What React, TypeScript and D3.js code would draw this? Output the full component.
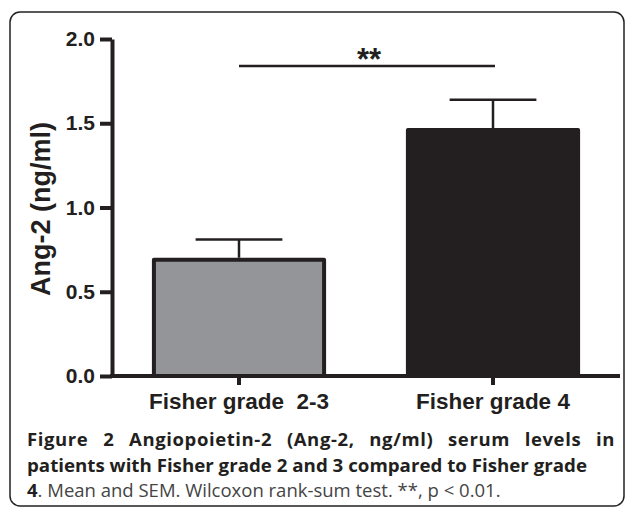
import React, { useEffect, useRef } from "react";
import * as d3 from "d3";

const categories = ["Fisher grade  2-3", "Fisher grade 4"];
const means = [0.69, 1.46];
const sems = [0.12, 0.18];
const barColors = ["#939598", "#231f20"];
const yTicks = [0, 0.5, 1.0, 1.5, 2.0];
const captionLines = [
  "Angiopoietin-2 (Ang-2, ng/ml) serum levels in",
  "patients with Fisher grade 2 and 3 compared to Fisher grade",
  ". Mean and SEM. Wilcoxon rank-sum test. **, p < 0.01.",
];

const width = 627,
  height = 510;

const App = () => {
  const ref = useRef<SVGSVGElement>(null);

  useEffect(() => {
    const svg = d3.select(ref.current);
    svg.selectAll("*").remove();

    const left = 112,
      right = 620,
      top = 39,
      bottom = 376;
    const font = "'Liberation Sans', Arial, sans-serif";

    // frame
    svg
      .append("rect")
      .attr("x", 10)
      .attr("y", 12)
      .attr("width", 614)
      .attr("height", 494)
      .attr("rx", 10)
      .attr("fill", "white")
      .attr("stroke", "#222")
      .attr("stroke-width", 1.5);

    const y = d3.scaleLinear().domain([0, 2]).range([bottom, top]);
    const x = d3.scaleBand().domain(categories).range([left, right]).padding(0);
    const barW = x.bandwidth() * 0.67;
    const capW = barW * 0.51;

    // bars
    const g = svg.append("g");
    g.selectAll("rect.bar")
      .data(means)
      .enter()
      .append("rect")
      .attr("class", "bar")
      .attr("x", (d, i) => x(categories[i])! + x.bandwidth() / 2 - barW / 2)
      .attr("y", (d) => y(d))
      .attr("width", barW)
      .attr("height", (d) => y(0) - y(d))
      .attr("fill", (d, i) => barColors[i])
      .attr("stroke", "#231f20")
      .attr("stroke-width", 4)
      .attr("stroke-linejoin", "round");

    // error bars
    means.forEach((m, i) => {
      const cx = x(categories[i])! + x.bandwidth() / 2;
      g.append("line")
        .attr("x1", cx)
        .attr("x2", cx)
        .attr("y1", y(m) - 2)
        .attr("y2", y(m + sems[i]))
        .attr("stroke", "#231f20")
        .attr("stroke-width", 2.5);
      g.append("line")
        .attr("x1", cx - capW / 2)
        .attr("x2", cx + capW / 2)
        .attr("y1", y(m + sems[i]))
        .attr("y2", y(m + sems[i]))
        .attr("stroke", "#231f20")
        .attr("stroke-width", 2.5);
    });

    // y axis
    const yAxis = svg
      .append("g")
      .attr("transform", `translate(${left}, 0)`)
      .call(
        d3
          .axisLeft(y)
          .tickValues(yTicks)
          .tickSize(12)
          .tickSizeOuter(0)
          .tickPadding(5)
          .tickFormat(d3.format(".1f"))
      );
    yAxis.select(".domain").attr("stroke", "#231f20").attr("stroke-width", 4);
    yAxis.selectAll(".tick line").attr("stroke", "#231f20").attr("stroke-width", 4);
    yAxis
      .selectAll(".tick text")
      .attr("fill", "#231f20")
      .style("font-family", font)
      .style("font-weight", "bold")
      .style("font-size", "21px");

    // x axis
    const xAxis = svg
      .append("g")
      .attr("transform", `translate(0, ${bottom})`)
      .call(d3.axisBottom(x).tickSize(9).tickSizeOuter(0).tickPadding(8));
    xAxis.select(".domain").attr("stroke", "#231f20").attr("stroke-width", 4).attr("d", `M${left - 2},0H${right}`);
    xAxis.selectAll(".tick line").attr("stroke", "#231f20").attr("stroke-width", 4);
    xAxis
      .selectAll(".tick text")
      .attr("fill", "#231f20")
      .style("font-family", font)
      .style("font-weight", "bold")
      .style("font-size", "22.5px")
      .style("white-space", "pre");

    // y label
    svg
      .append("text")
      .attr("transform", `translate(50, 209) rotate(-90)`)
      .attr("text-anchor", "middle")
      .attr("fill", "#231f20")
      .style("font-family", font)
      .style("font-weight", "bold")
      .style("font-size", "27px")
      .text("Ang-2 (ng/ml)");

    // significance
    const c0 = x(categories[0])! + x.bandwidth() / 2;
    const c1 = x(categories[1])! + x.bandwidth() / 2;
    svg
      .append("line")
      .attr("x1", c0)
      .attr("x2", c1 + 2)
      .attr("y1", 66)
      .attr("y2", 66)
      .attr("stroke", "#231f20")
      .attr("stroke-width", 2.5);
    svg
      .append("text")
      .attr("x", (c0 + c1) / 2 + 3)
      .attr("y", 70)
      .attr("text-anchor", "middle")
      .attr("fill", "#231f20")
      .style("font-family", font)
      .style("font-weight", "bold")
      .style("font-size", "31px")
      .text("**");

    // caption
    const capFont = "'Open Sans', sans-serif";
    const cap = svg.append("g").style("font-family", capFont).style("font-size", "18.5px");
    const l1 = cap
      .append("text")
      .attr("x", 27)
      .attr("y", 446)
      .attr("fill", "#231f20")
      .attr("letter-spacing", 0.6)
      .style("font-weight", "bold")
      .text("Figure 2 " + captionLines[0]);
    // justify line 1 by widening the word gaps
    const natural = (l1.node() as SVGTextElement).getComputedTextLength();
    const gaps = ("Figure 2 " + captionLines[0]).split(" ").length - 1;
    l1.attr("word-spacing", Math.max(0, (588 - natural) / gaps));
    cap
      .append("text")
      .attr("x", 27)
      .attr("y", 472)
      .attr("textLength", 560)
      .attr("lengthAdjust", "spacingAndGlyphs")
      .attr("fill", "#231f20")
      .style("font-weight", "bold")
      .text(captionLines[1]);
    const l3 = cap.append("text").attr("x", 27).attr("y", 497).attr("fill", "#444");
    l3.append("tspan").attr("fill", "#231f20").style("font-weight", "bold").text("4");
    l3.append("tspan").text(captionLines[2]);
  }, []);

  return (
    <svg
      ref={ref}
      width={width}
      height={height}
      style={{ position: "absolute", left: 0, top: 0, display: "block" }}
    ></svg>
  );
};

export default App;
